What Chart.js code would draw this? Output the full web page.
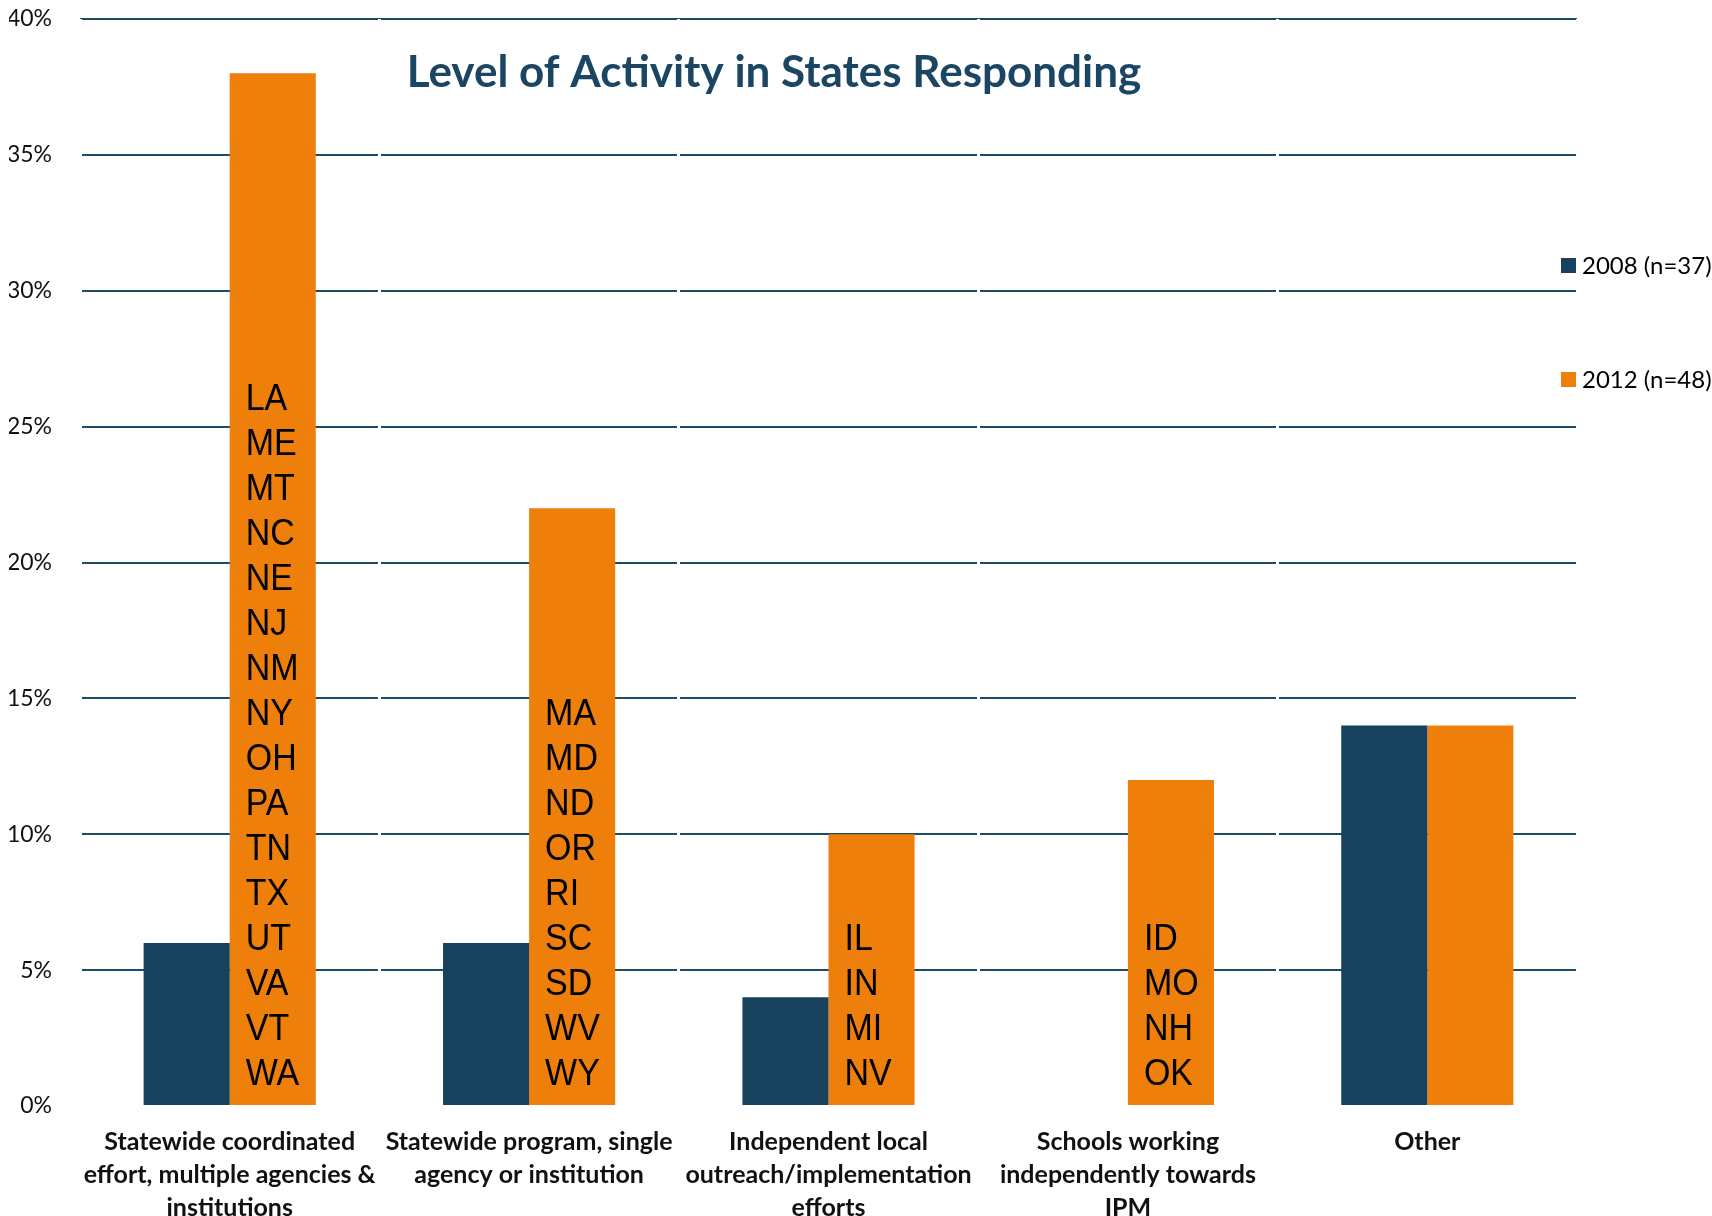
<!DOCTYPE html>
<html>
<head>
<meta charset="utf-8">
<script src="https://cdn.jsdelivr.net/npm/chart.js@4.4.1/dist/chart.umd.min.js"></script>
<style>
  html, body { margin: 0; padding: 0; background: #fff; }
  #wrap { width: 1712px; height: 1216px; }
</style>
</head>
<body>
<div id="wrap"><canvas id="activityChart"></canvas></div>
<script>
// categories (multi-line labels as shown under the axis)
var categories = [
    ["Statewide coordinated", "effort, multiple agencies &", "institutions"],
    ["Statewide program, single", "agency or institution"],
    ["Independent local", "outreach/implementation", "efforts"],
    ["Schools working", "independently towards", "IPM"],
    ["Other"]
];

// percent of states responding
var values2008 = [6, 6, 4, 0, 14];
var values2012 = [38, 22, 10, 12, 14];

var seriesNames = ["2008 (n=37)", "2012 (n=48)"];

// states listed inside the 2012 bars
var states2012 = [
    ["LA", "ME", "MT", "NC", "NE", "NJ", "NM", "NY", "OH", "PA", "TN", "TX", "UT", "VA", "VT", "WA"],
    ["MA", "MD", "ND", "OR", "RI", "SC", "SD", "WV", "WY"],
    ["IL", "IN", "MI", "NV"],
    ["ID", "MO", "NH", "OK"],
    []
];

var yTicks = [0, 5, 10, 15, 20, 25, 30, 35, 40];

var navy = "#17415d";
var orange = "#ef7f0b";

// title, legend and state names drawn on top of the chart
var overlayPlugin = {
    id: "overlay",
    afterDatasetsDraw: function(chart) {
        var ctx = chart.ctx;
        var meta = chart.getDatasetMeta(1);
        ctx.save();
        ctx.fillStyle = "#000";
        ctx.font = "34px 'Liberation Sans', Arial, sans-serif";
        ctx.textAlign = "left";
        ctx.textBaseline = "alphabetic";
        meta.data.forEach(function(bar, i) {
            var list = states2012[i];
            var left = bar.x - bar.width / 2 + 16;
            var lastBase = bar.base - 20;
            for (var j = 0; j < list.length; j++) {
                var y = lastBase - (list.length - 1 - j) * 45;
                ctx.save();
                ctx.translate(left, y);
                ctx.scale(1, 1.1);
                ctx.fillText(list[j], 0, 0);
                ctx.restore();
            }
        });
        ctx.restore();
    },
    afterDraw: function(chart) {
        var ctx = chart.ctx;
        ctx.save();
        // title
        ctx.fillStyle = "#1a4664";
        ctx.font = "bold 44px Lato, sans-serif";
        ctx.textAlign = "center";
        ctx.textBaseline = "alphabetic";
        ctx.fillText("Level of Activity in States Responding", 774, 87);

        // legend
        var colors = [navy, orange];
        var ys = [266, 380];
        ctx.font = "24px Lato, sans-serif";
        ctx.textAlign = "left";
        ctx.textBaseline = "middle";
        chart.data.datasets.forEach(function(ds, i) {
            ctx.fillStyle = colors[i];
            ctx.fillRect(1561, ys[i] - 8, 15, 15);
            ctx.fillStyle = "#000";
            ctx.fillText(ds.label, 1582, ys[i]);
        });
        ctx.restore();
    }
};

new Chart(document.getElementById("activityChart"), {
    type: "bar",
    data: {
        labels: categories,
        datasets: [
            {
                label: seriesNames[0],
                data: values2008,
                backgroundColor: navy,
                borderWidth: 0
            },
            {
                label: seriesNames[1],
                data: values2012,
                backgroundColor: orange,
                borderWidth: 0
            }
        ]
    },
    options: {
        responsive: true,
        maintainAspectRatio: false,
        animation: false,
        layout: {
            padding: { left: 9, right: 135, top: 19, bottom: 0 }
        },
        datasets: {
            bar: {
                categoryPercentage: 0.575,
                barPercentage: 1.0
            }
        },
        plugins: {
            legend: { display: false },
            title: { display: false },
            tooltip: { enabled: false }
        },
        scales: {
            x: {
                afterFit: function(scale) {
                    scale.height = 110;
                    scale.paddingLeft = 0;
                    scale.paddingRight = 0;
                },
                grid: {
                    offset: true,
                    color: "#ffffff",
                    lineWidth: 3,
                    drawTicks: false,
                    z: 0
                },
                border: { display: false },
                ticks: {
                    color: "#111",
                    padding: 20,
                    maxRotation: 0,
                    autoSkip: false,
                    font: { family: "Lato", weight: "bold", size: 25, lineHeight: 1.31 }
                }
            },
            y: {
                min: 0,
                max: 40,
                afterBuildTicks: function(scale) {
                    scale.ticks = yTicks.map(function(v) { return { value: v }; });
                },
                afterFit: function(scale) {
                    scale.width = 71;
                    scale.paddingTop = 0;
                    scale.paddingBottom = 0;
                },
                grid: {
                    color: function(c) { return c.tick && c.tick.value === 0 ? "rgba(0,0,0,0)" : "#1f4a66"; },
                    lineWidth: 2,
                    drawTicks: false
                },
                border: { display: false },
                ticks: {
                    color: "#111",
                    padding: 28,
                    font: { family: "Lato", size: 23 },
                    callback: function(v) { return v + "%"; }
                }
            }
        }
    },
    plugins: [overlayPlugin]
});
</script>
</body>
</html>
